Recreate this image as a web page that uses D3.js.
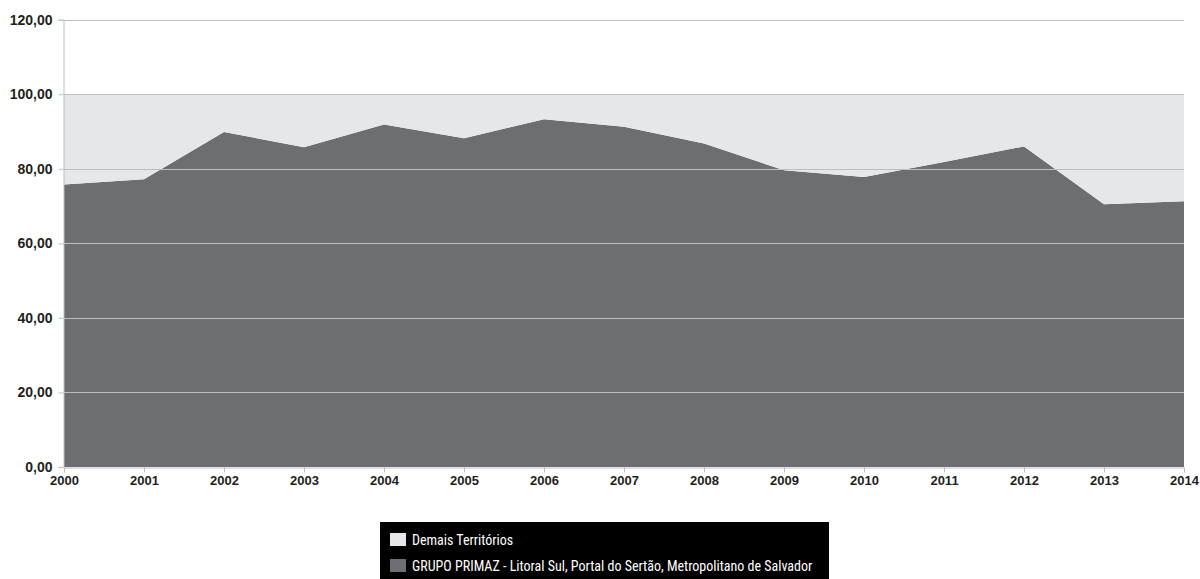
<!DOCTYPE html>
<html>
<head>
<meta charset="utf-8">
<script src="https://cdn.jsdelivr.net/npm/d3@7"></script>
<style>
html,body{margin:0;padding:0;background:#fff;}
svg{display:block;}
</style>
</head>
<body>
<svg id="chart" width="1200" height="579"></svg>
<script>
const years = [2000,2001,2002,2003,2004,2005,2006,2007,2008,2009,2010,2011,2012,2013,2014];
const primaz = [75.8,77.2,89.9,85.8,91.9,88.2,93.3,91.3,86.8,79.6,77.8,81.8,86.0,70.5,71.3];
const demais = primaz.map(v => +(100 - v).toFixed(1));
const seriesNames = ["GRUPO PRIMAZ - Litoral Sul, Portal do Sertão, Metropolitano de Salvador","Demais Territórios"];
const seriesColors = ["#6d6e71","#e6e7e8"];
const yTicks = [0,20,40,60,80,100,120];

const svg = d3.select("#chart");
const m = {left:64, right:1184, top:19.7, bottom:467};
const x = d3.scaleLinear().domain([2000,2014]).range([m.left,m.right]);
const y = d3.scaleLinear().domain([0,120]).range([m.bottom,m.top]);

const data = years.map((yr,i)=>({year:yr, p:primaz[i], d:demais[i]}));
const stack = d3.stack().keys(["p","d"]);
const layers = stack(data);

const area = d3.area().x(d=>x(d.data.year)).y0(d=>y(d[0])).y1(d=>y(d[1]));
svg.append("g").selectAll("path").data(layers).join("path")
  .attr("d",area).attr("fill",(d,i)=>seriesColors[i]);

// gridlines
svg.append("g").selectAll("line").data(yTicks.filter(t=>t>0)).join("line")
  .attr("x1",m.left).attr("x2",m.right)
  .attr("y1",d=>Math.round(y(d))+0.5).attr("y2",d=>Math.round(y(d))+0.5)
  .attr("stroke","#bcbec0").attr("stroke-width",1);

// y axis
const fmt = d => d3.format(".2f")(d).replace(".",",");
const yAxis = d3.axisLeft(y).tickValues(yTicks).tickSize(5).tickPadding(6).tickFormat(fmt);
const gy = svg.append("g").attr("transform",`translate(${m.left-0.5},0)`).call(yAxis);
gy.select(".domain").attr("stroke","#bcbec0");
gy.selectAll(".tick line").attr("stroke","#bcbec0");
gy.selectAll("text").attr("font-family","Arial, Helvetica, sans-serif")
  .attr("font-weight","bold").attr("font-size","14px").attr("fill","#231f20");

// x axis
const xAxis = d3.axisBottom(x).tickValues(years).tickSize(5).tickPadding(3).tickFormat(d3.format("d"));
const gx = svg.append("g").attr("transform",`translate(0,${m.bottom+0.5})`).call(xAxis);
gx.select(".domain").attr("stroke","#bcbec0");
gx.selectAll(".tick line").attr("stroke","#bcbec0");
gx.selectAll("text").attr("font-family","Arial, Helvetica, sans-serif")
  .attr("font-weight","bold").attr("font-size","13px").attr("fill","#231f20");

// legend
const lg = svg.append("g");
lg.append("rect").attr("x",380).attr("y",522).attr("width",449).attr("height",57).attr("fill","#000");
const legendItems = [{name:seriesNames[1],color:seriesColors[1]},{name:seriesNames[0],color:seriesColors[0]}];
legendItems.forEach((it,i)=>{
  const yy = 533 + i*26;
  lg.append("rect").attr("x",390).attr("y",yy).attr("width",16).attr("height",13).attr("fill",it.color);
  lg.append("text").attr("x",412).attr("y",yy+11.5).text(it.name)
    .attr("font-family","Liberation Sans Narrow, Arial Narrow, Roboto Condensed, sans-serif")
    .attr("font-size","14px").attr("fill","#fff");
});
</script>
</body>
</html>
